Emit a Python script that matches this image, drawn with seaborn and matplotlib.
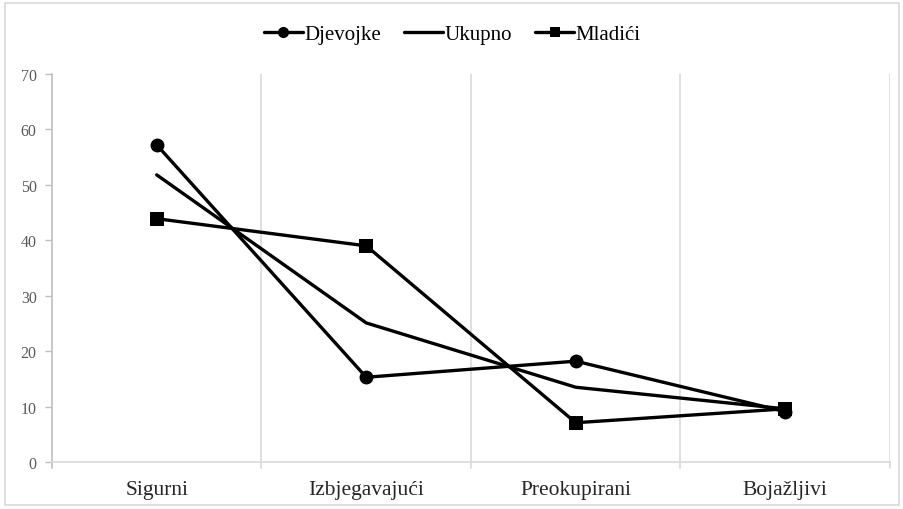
import matplotlib
matplotlib.use("Agg")
import matplotlib.pyplot as plt
import seaborn as sns
import pandas as pd
import numpy as np

categories = ["Sigurni", "Izbjegavajući", "Preokupirani", "Bojažljivi"]
djevojke = [57.2, 15.3, 18.2, 9.1]
ukupno = [51.8, 25.1, 13.5, 9.6]
mladici = [43.9, 39.0, 7.1, 9.6]
series_names = ["Djevojke", "Ukupno", "Mladići"]
y_ticks = [0, 10, 20, 30, 40, 50, 60, 70]

sns.set_theme(style="white")
plt.rcParams["font.family"] = ["Liberation Serif", "DejaVu Serif"]

rows = []
for name, vals in zip(series_names, [djevojke, ukupno, mladici]):
    for i, v in enumerate(vals):
        rows.append({"pos": i, "value": v, "serie": name})
df = pd.DataFrame(rows)

fig = plt.figure(figsize=(9.04, 5.10), dpi=100)
ax = fig.add_axes([0.0575, 0.092, 0.927, 0.761])

markers = {"Djevojke": "o", "Ukupno": "", "Mladići": "s"}
sizes = {"Djevojke": 10, "Ukupno": 0, "Mladići": 9.5}
for name in series_names:
    sub = df[df.serie == name]
    m = markers[name]
    sns.lineplot(data=sub, x="pos", y="value", ax=ax, color="black",
                 linewidth=2.4, marker=m if m else None,
                 markersize=sizes[name], markeredgewidth=0,
                 label=name, sort=False, zorder=3)

ax.set_xlim(-0.5, 3.5)
ax.set_ylim(0, 70)
ax.set_yticks(y_ticks)
ax.set_yticklabels([str(t) for t in y_ticks], color="#595959", fontsize=11.5)
ax.set_xticks(range(len(categories)))
ax.set_xticklabels(categories, color="#262626", fontsize=15.5)
ax.tick_params(axis="x", length=0, pad=13)
ax.tick_params(axis="y", length=5, width=1, color="#bfbfbf", direction="out", left=True, pad=6)
for b in [0.5, 1.5, 2.5, 3.5]:
    ax.axvline(b, color="#d9d9d9", linewidth=1.2, zorder=0)
    ax.plot([b, b], [0, -1.0], color="#d9d9d9", linewidth=1.2, clip_on=False, zorder=0)
ax.plot([-0.5, -0.5], [0, -1.0], color="#bfbfbf", linewidth=1.2, clip_on=False, zorder=0)
ax.set_xlabel("")
ax.set_ylabel("")
for s in ["top", "right"]:
    ax.spines[s].set_visible(False)
ax.spines["left"].set_color("#bfbfbf")
ax.spines["bottom"].set_color("#d9d9d9")
ax.spines["left"].set_linewidth(1.2)
ax.spines["bottom"].set_linewidth(1.2)

leg = ax.legend(loc="center", bbox_to_anchor=(0.5, 0.931), bbox_transform=fig.transFigure,
                ncol=3, frameon=False, fontsize=15, handlelength=1.9, handletextpad=0.05,
                columnspacing=1.1, markerscale=0.8)
for t in leg.get_texts():
    t.set_color("black")

border = plt.Rectangle((0.005, 0.008), 0.99, 0.984, transform=fig.transFigure,
                       fill=False, edgecolor="#d9d9d9", linewidth=1.2)
fig.patches.append(border)

fig.savefig("out.png", dpi=100)
